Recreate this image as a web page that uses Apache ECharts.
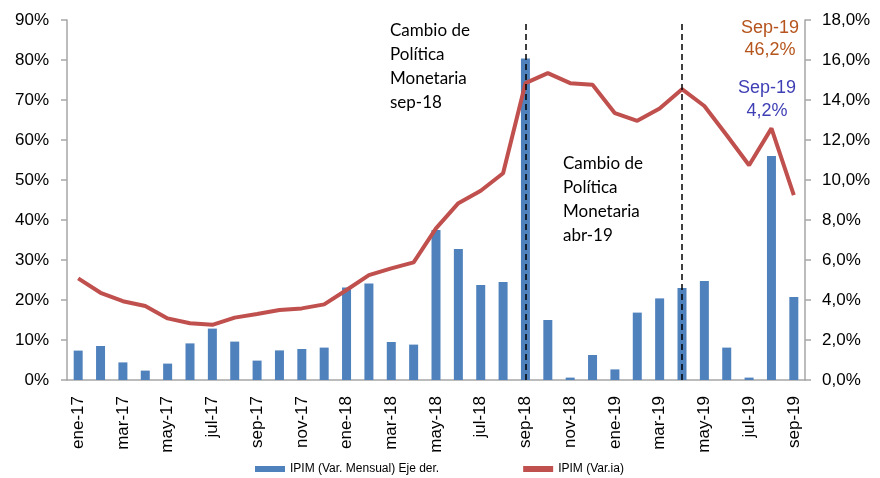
<!DOCTYPE html>
<html>
<head>
<meta charset="utf-8">
<script src="https://cdn.jsdelivr.net/npm/echarts@6/dist/echarts.min.js"></script>
<style>
  html, body { margin: 0; padding: 0; background: #fff; }
  #grafico { width: 880px; height: 478px; }
</style>
</head>
<body>
<div id="grafico"></div>
<script>
const meses = ["ene-17","feb-17","mar-17","abr-17","may-17","jun-17","jul-17","ago-17","sep-17","oct-17","nov-17","dic-17",
  "ene-18","feb-18","mar-18","abr-18","may-18","jun-18","jul-18","ago-18","sep-18","oct-18","nov-18","dic-18",
  "ene-19","feb-19","mar-19","abr-19","may-19","jun-19","jul-19","ago-19","sep-19"];

// variación mensual (eje derecho)
const varMensual = [1.47, 1.70, 0.88, 0.47, 0.82, 1.83, 2.57, 1.92, 0.97, 1.48, 1.55, 1.62,
  4.62, 4.82, 1.90, 1.77, 7.50, 6.55, 4.75, 4.90, 16.08, 3.00, 0.12, 1.25,
  0.53, 3.37, 4.08, 4.60, 4.95, 1.62, 0.12, 11.20, 4.15];

// variación interanual (eje izquierdo)
const varIa = [25.4, 21.8, 19.7, 18.5, 15.4, 14.2, 13.8, 15.6, 16.5, 17.5, 17.9, 18.9,
  22.5, 26.2, 27.9, 29.4, 37.9, 44.2, 47.3, 51.7, 74.2, 76.7, 74.2, 73.8,
  66.7, 64.8, 67.9, 72.7, 68.5, 61.2, 53.7, 62.9, 46.2];

const cambiosPolitica = ["sep-18", "abr-19"];

const azul = "#4F81BD";
const rojo = "#C0504D";
const gris = "#A6A6A6";

const grafico = echarts.init(document.getElementById("grafico"));

grafico.setOption({
    animation: false,
    textStyle: {fontFamily: "Liberation Sans, Arial, sans-serif"},
    grid: {left: 67, right: 75, top: 20, bottom: 98},
    legend: {
        left: 250,
        top: 458,
        itemGap: 84,
        itemWidth: 30,
        itemHeight: 6,
        textStyle: {fontSize: 12, color: "#000"},
        data: [
            {name: "IPIM (Var. Mensual) Eje der.", icon: "rect"},
            {name: "IPIM (Var.ia)", icon: "rect"}
        ]
    },
    xAxis: {
        type: "category",
        data: meses,
        boundaryGap: true,
        axisLine: {lineStyle: {color: gris, width: 1.5}},
        axisTick: {interval: 1, length: 6, lineStyle: {color: gris, width: 1.5}},
        axisLabel: {interval: 1, rotate: 90, fontSize: 17, color: "#000", margin: 16}
    },
    yAxis: [
        {
            type: "value",
            min: 0, max: 90, interval: 10,
            splitLine: {show: false},
            axisLine: {show: true, lineStyle: {color: gris, width: 1.5}},
            axisTick: {show: true, length: 6, lineStyle: {color: gris, width: 1.5}},
            axisLabel: {formatter: "{value}%", fontSize: 17, color: "#000", margin: 18}
        },
        {
            type: "value",
            min: 0, max: 18, interval: 2,
            position: "right",
            splitLine: {show: false},
            axisLine: {show: true, lineStyle: {color: gris, width: 1.5}},
            axisTick: {show: true, length: 6, lineStyle: {color: gris, width: 1.5}},
            axisLabel: {
                formatter: function(v) { return v.toFixed(1).replace(".", ",") + "%"; },
                fontSize: 17, color: "#000", margin: 17
            }
        }
    ],
    series: [
        {
            name: "IPIM (Var. Mensual) Eje der.",
            type: "bar",
            yAxisIndex: 1,
            data: varMensual,
            barWidth: 9,
            itemStyle: {color: azul},
            markLine: {
                silent: true,
                symbol: "none",
                label: {show: false},
                lineStyle: {color: "#000", type: [6, 4], width: 1.5},
                data: cambiosPolitica.map(function(m) { return {xAxis: m}; })
            }
        },
        {
            name: "IPIM (Var.ia)",
            type: "line",
            yAxisIndex: 0,
            data: varIa,
            symbol: "none",
            lineStyle: {color: rojo, width: 4},
            itemStyle: {color: rojo},
            z: 3
        }
    ],
    graphic: [
        {
            type: "text", left: 390, top: 19,
            style: {text: "Cambio de\nPolítica\nMonetaria\nsep-18", fontFamily: "Lato", fontSize: 17, lineHeight: 24, fill: "#000"}
        },
        {
            type: "text", left: 563, top: 152,
            style: {text: "Cambio de\nPolítica\nMonetaria\nabr-19", fontFamily: "Lato", fontSize: 17, lineHeight: 24, fill: "#000"}
        },
        {
            type: "text", x: 770, y: 17,
            style: {text: "Sep-19\n46,2%", fontSize: 18, lineHeight: 22, fill: "#B5541C", align: "center", verticalAlign: "top"}
        },
        {
            type: "text", x: 767, y: 77,
            style: {text: "Sep-19\n4,2%", fontSize: 18, lineHeight: 23, fill: "#3F3FB5", align: "center", verticalAlign: "top"}
        }
    ]
});
</script>
</body>
</html>
